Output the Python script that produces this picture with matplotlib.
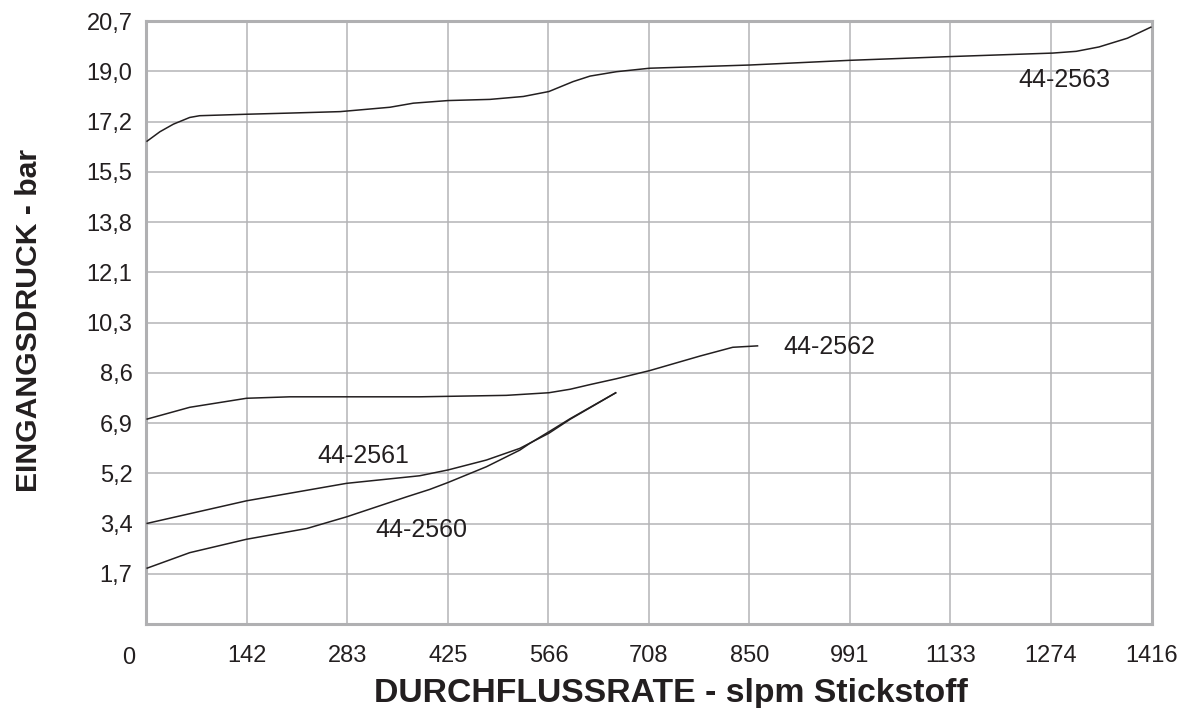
import matplotlib
matplotlib.use("Agg")
import matplotlib.pyplot as plt

plt.rcParams['font.family'] = ['Liberation Sans', 'DejaVu Sans']

# Data (flow in slpm nitrogen, inlet pressure in bar)
x_2563 = [0, 19, 38, 61, 75, 141, 202, 273, 343, 376, 425, 484, 531, 567, 601, 625, 662, 709, 850, 990, 1133, 1277, 1310, 1342, 1382, 1416]
y_2563 = [16.56, 16.90, 17.16, 17.39, 17.45, 17.50, 17.54, 17.59, 17.74, 17.88, 17.97, 18.01, 18.11, 18.28, 18.62, 18.81, 18.96, 19.08, 19.19, 19.35, 19.48, 19.60, 19.66, 19.81, 20.11, 20.50]

x_2562 = [0, 61, 141, 202, 282, 385, 507, 567, 597, 625, 662, 709, 780, 826, 862]
y_2562 = [7.03, 7.44, 7.75, 7.80, 7.80, 7.80, 7.85, 7.94, 8.06, 8.22, 8.42, 8.70, 9.20, 9.50, 9.55]

x_2561 = [0, 141, 282, 385, 425, 479, 526, 567, 597, 662]
y_2561 = [3.45, 4.23, 4.83, 5.09, 5.29, 5.63, 6.03, 6.55, 7.03, 7.95]

x_2560 = [0, 61, 141, 226, 282, 367, 399, 425, 479, 526, 540, 567, 597, 662]
y_2560 = [1.91, 2.45, 2.91, 3.28, 3.68, 4.37, 4.62, 4.86, 5.40, 5.97, 6.20, 6.60, 7.05, 7.95]

labels = ["44-2563", "44-2562", "44-2561", "44-2560"]
label_x = [1293, 897, 306, 388]
label_y = [18.68, 9.51, 5.77, 3.23]
label_ha = ["center", "left", "center", "center"]

x_tick_labels = ["142", "283", "425", "566", "708", "850", "991", "1133", "1274", "1416"]
y_tick_labels = ["1,7", "3,4", "5,2", "6,9", "8,6", "10,3", "12,1", "13,8", "15,5", "17,2", "19,0", "20,7"]

x_max = 1416
y_max = 20.7

fig = plt.figure(figsize=(11.82, 7.08), dpi=100)
ax = fig.add_axes([0.1239, 0.1186, 0.8503, 0.8517])

line_color = "#231f20"
for xs, ys in [(x_2563, y_2563), (x_2562, y_2562), (x_2561, y_2561), (x_2560, y_2560)]:
    ax.plot(xs, ys, color=line_color, lw=1.1, solid_capstyle='butt',
            solid_joinstyle='round', zorder=3)

for t, lx, ly, ha in zip(labels, label_x, label_y, label_ha):
    ax.text(lx, ly, t, fontsize=18, color=line_color, ha=ha, va="center", zorder=4)

ax.set_xlim(0, x_max)
ax.set_ylim(0, y_max)
xt = [x_max / 10 * (i + 1) for i in range(10)]
yt = [y_max / 12 * (i + 1) for i in range(12)]
ax.set_xticks(xt)
ax.set_xticklabels(x_tick_labels)
ax.set_yticks(yt)
ax.set_yticklabels(y_tick_labels)
ax.tick_params(length=0, labelsize=17, colors=line_color)
ax.tick_params(axis='y', pad=10)
ax.tick_params(axis='x', pad=15)
ax.grid(True, color="#b4b4b6", lw=1.1, zorder=1)
for s in ax.spines.values():
    s.set_color("#b0b0b2")
    s.set_linewidth(2.2)

ax.text(-0.0114, -0.056, "0", transform=ax.transAxes, fontsize=17, color=line_color,
        ha="right", va="center")

ax.set_xlabel("DURCHFLUSSRATE - slpm Stickstoff", fontsize=24.3, fontweight="bold",
              color=line_color)
ax.xaxis.set_label_coords(0.522, -0.090)
ax.set_ylabel("EINGANGSDRUCK - bar", fontsize=21.7, fontweight="bold",
              color=line_color)
ax.yaxis.set_label_coords(-0.103, 0.504)

fig.savefig("out.png", dpi=100, facecolor="white")
